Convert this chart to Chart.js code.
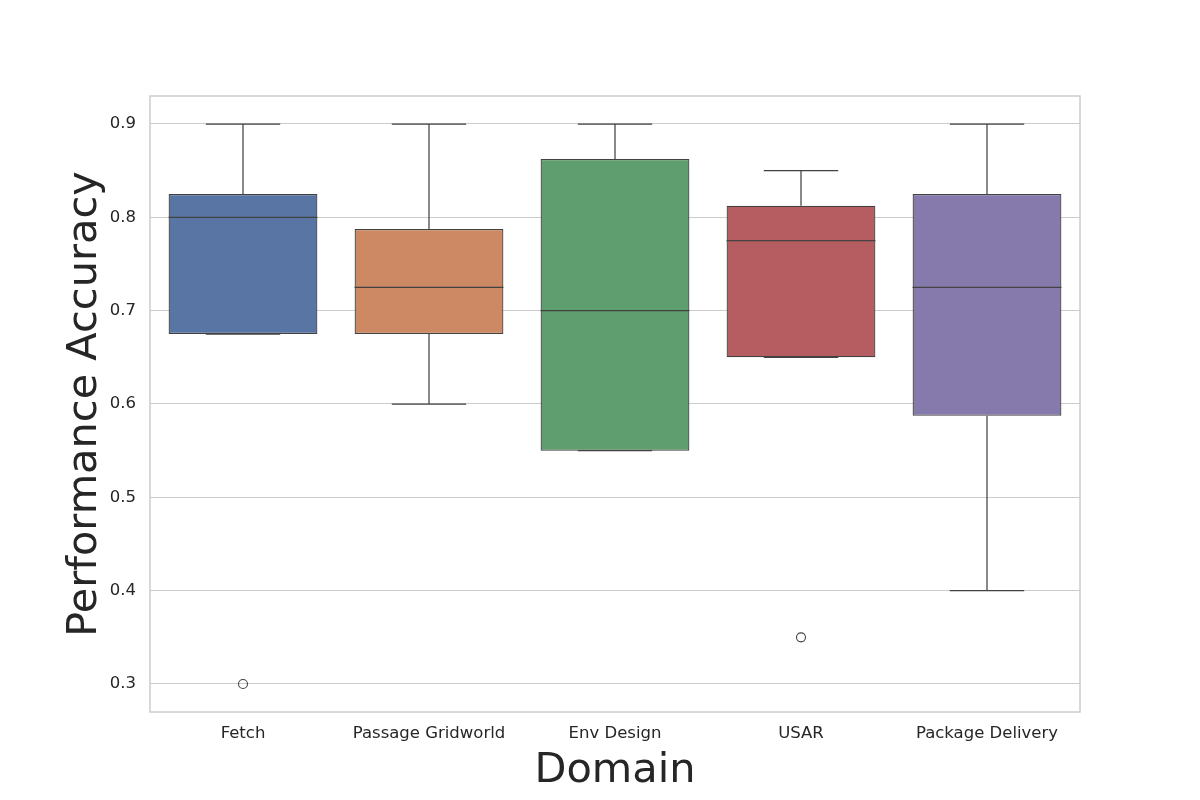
<!DOCTYPE html>
<html>
<head>
<meta charset="utf-8">
<script src="https://cdn.jsdelivr.net/npm/chart.js@4"></script>
<style>
  html, body { margin: 0; padding: 0; background: #fff; }
  #wrap { width: 1200px; height: 800px; }
</style>
</head>
<body>
<div id="wrap"><canvas id="myChart"></canvas></div>
<script>
const domains = ['Fetch', 'Passage Gridworld', 'Env Design', 'USAR', 'Package Delivery']
const whiskerLow = [0.675, 0.6, 0.55, 0.65, 0.4]
const q1 = [0.675, 0.675, 0.55, 0.65, 0.5875]
const median = [0.8, 0.725, 0.7, 0.775, 0.725]
const q3 = [0.825, 0.7875, 0.8625, 0.8125, 0.825]
const whiskerHigh = [0.9, 0.9, 0.9, 0.85, 0.9]
const outliers = [0.3, null, null, 0.35, null]
const yTicks = [0.3, 0.4, 0.5, 0.6, 0.7, 0.8, 0.9]

const boxColors = ['#5875a4', '#cc8963', '#5f9e6e', '#b55d60', '#857aab']
const lineColor = '#424242'
const textColor = '#262626'
const font = 'DejaVu Sans'

// whiskers, caps and medians, drawn through the chart scales
const boxLines = {
    id: 'boxLines',
    afterDatasetsDraw(chart) {
        const ctx = chart.ctx
        const x = chart.scales.x
        const y = chart.scales.y
        const bars = chart.getDatasetMeta(0).data
        ctx.save()
        ctx.strokeStyle = lineColor
        ctx.lineWidth = 1.25
        domains.forEach((d, i) => {
            const cx = x.getPixelForValue(i)
            const half = bars[i].width / 2
            const cap = half / 2
            const line = (x1, y1, x2, y2) => {
                ctx.beginPath()
                ctx.moveTo(x1, y1)
                ctx.lineTo(x2, y2)
                ctx.stroke()
            }
            line(cx, y.getPixelForValue(whiskerLow[i]), cx, y.getPixelForValue(q1[i]))
            line(cx, y.getPixelForValue(q3[i]), cx, y.getPixelForValue(whiskerHigh[i]))
            line(cx - cap, y.getPixelForValue(whiskerLow[i]), cx + cap, y.getPixelForValue(whiskerLow[i]))
            line(cx - cap, y.getPixelForValue(whiskerHigh[i]), cx + cap, y.getPixelForValue(whiskerHigh[i]))
            line(cx - half, y.getPixelForValue(median[i]), cx + half, y.getPixelForValue(median[i]))
        })
        // frame round the plot
        const a = chart.chartArea
        ctx.strokeStyle = '#cccccc'
        ctx.lineWidth = 1.5
        ctx.strokeRect(a.left, a.top, a.right - a.left, a.bottom - a.top)
        ctx.restore()
    }
}

const config = {
    data: {
        labels: domains,
        datasets: [{
            type: 'bar',
            data: domains.map((d, i) => [q1[i], q3[i]]),
            backgroundColor: boxColors,
            borderColor: lineColor,
            borderWidth: 1.25,
            borderSkipped: false,
            categoryPercentage: 0.8,
            barPercentage: 1
        }, {
            type: 'line',
            data: outliers,
            showLine: false,
            pointStyle: 'circle',
            pointRadius: 4.5,
            pointBackgroundColor: 'rgba(0,0,0,0)',
            pointBorderColor: lineColor,
            pointBorderWidth: 1.1
        }]
    },
    options: {
        responsive: true,
        maintainAspectRatio: false,
        animation: false,
        events: [],
        layout: {
            padding: { top: 96, right: 120, left: 0, bottom: 0 }
        },
        plugins: {
            legend: { display: false },
            tooltip: { enabled: false }
        },
        scales: {
            x: {
                grid: { display: false, drawTicks: false },
                border: { display: false },
                ticks: { color: textColor, padding: 12, font: { family: font, size: 16.5 } },
                title: {
                    display: true, text: 'Domain', color: textColor,
                    font: { family: font, size: 41.5, lineHeight: 1.2 },
                    padding: { top: 0, bottom: 4 }
                },
                afterFit: (s) => { s.height = 88 }
            },
            y: {
                min: 0.27,
                max: 0.93,
                grid: { color: '#cccccc', lineWidth: 1.1, drawTicks: false },
                border: { display: false },
                afterBuildTicks: (s) => { s.ticks = yTicks.map(v => ({ value: v })) },
                ticks: {
                    color: textColor, padding: 14,
                    font: { family: font, size: 16.5 },
                    callback: (v) => v.toFixed(1)
                },
                title: {
                    display: true, text: 'Performance Accuracy', color: textColor,
                    font: { family: font, size: 41.5, lineHeight: 1.2 },
                    padding: { top: 60, bottom: 0 }
                },
                afterFit: (s) => { s.width = 150 }
            }
        }
    },
    plugins: [boxLines]
}

const myChart = new Chart(document.getElementById('myChart'), config)
</script>
</body>
</html>
